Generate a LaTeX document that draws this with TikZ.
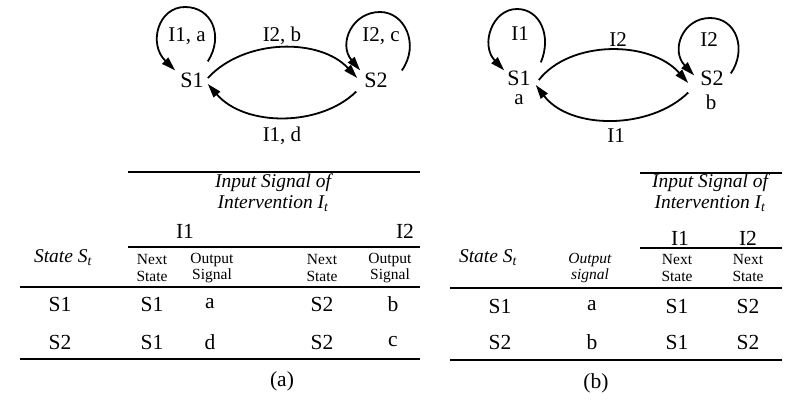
\documentclass[tikz,border=0pt]{standalone}
\usepackage{fontspec}
\setmainfont{Liberation Serif}
\usetikzlibrary{arrows.meta}
\tikzset{
  stnode/.style={font=\fontsize{22}{24}\selectfont, inner sep=4pt},
  lbl/.style={font=\fontsize{21}{24}\selectfont, inner sep=0pt},
  cell/.style={font=\fontsize{21.5}{24}\selectfont, inner sep=0pt},
  small/.style={font=\fontsize{15.5}{16.5}\selectfont, inner sep=0pt, align=center},
  smallit/.style={font=\fontsize{15.5}{16.5}\selectfont\itshape, inner sep=0pt, align=center},
  hdr/.style={font=\fontsize{19.5}{20}\selectfont\itshape, inner sep=0pt, align=center},
  edge/.style={line width=1.8pt, -{Triangle[length=14pt,width=8.5pt]}},
  thickrule/.style={line width=2.2pt},
  thinrule/.style={line width=1.1pt},
}
\begin{document}
\begin{tikzpicture}[x=1pt,y=-1pt]
\useasboundingbox (0,0) rectangle (788,404);

% ---------- diagram (a)
\node[stnode] (S1a) at (192,80) {S1};
\node[stnode] (S2a) at (376,80) {S2};
\node[lbl] (la1) at (187,36) {I1, a};
\node[lbl] (la2) at (282,36) {I2, b};
\node[lbl] (la3) at (381,36) {I2, c};
\node[lbl] (la4) at (282,136) {I1, d};

\draw[edge] ([shift={(0,-7)}]S1a.north east) .. controls (224,36) and (212,7) .. (185,7)
   .. controls (158,7) and (148,44) .. ([shift={(-1,2)}]S1a.north west);
\draw[edge] ([shift={(0,-2)}]S1a.east) .. controls (245,38) and (320,38) .. ([shift={(-3,-2)}]S2a.west);
\draw[edge] ([shift={(-4,0)}]S2a.south west) .. controls (320,127) and (245,127) .. ([shift={(0,4)}]S1a.east);
\draw[edge] ([shift={(10,2)}]S2a.north east) .. controls (420,45) and (405,12) .. (380,12)
   .. controls (352,12) and (338,44) .. ([shift={(0,2)}]S2a.north west);

% ---------- diagram (b)
\node[stnode] (S1b) at (519,78) {S1};
\node[stnode] (S2b) at (712,78) {S2};
\node[lbl] (oa) at (519,100) {a};
\node[lbl] (ob) at (711,102) {b};
\node[lbl] (lb1) at (520,34) {I1};
\node[lbl] (lb2) at (618,40) {I2};
\node[lbl] (lb3) at (709,40) {I2};
\node[lbl] (lb4) at (616,136) {I1};

\draw[edge] ([shift={(6,-4)}]S1b.north east) .. controls (552,36) and (540,9) .. (517,9)
   .. controls (492,9) and (480,45) .. ([shift={(1,4)}]S1b.north west);
\draw[edge] ([shift={(4,2)}]S1b.east) .. controls (570,40) and (650,40) .. ([shift={(-8,5)}]S2b.west);
\draw[edge] ([shift={(-8,3)}]S2b.south west) .. controls (650,130) and (570,130) .. ([shift={(1,7)}]S1b.east);
\draw[edge] ([shift={(3,7)}]S2b.north east) .. controls (747,50) and (737,18) .. (710,18)
   .. controls (683,18) and (670,50) .. ([shift={(-2,9)}]S2b.north west);

% ---------- table (a)
\coordinate (ta1) at (128,172); \coordinate (ta2) at (420,172);
\coordinate (tb1) at (128,247); \coordinate (tb2) at (420,247);
\coordinate (tc1) at (20,287);  \coordinate (tc2) at (420,287);
\coordinate (td1) at (20,359);  \coordinate (td2) at (420,359);
\draw[thickrule] (ta1) -- (ta2);
\draw[thinrule] (tb1) -- (tb2);
\draw[thinrule] (tc1) -- (tc2);
\draw[thickrule] (td1) -- (td2);
\node[hdr] (ah1) at (273,183) {Input Signal of};
\node[hdr] (ah2) at (273,204) {Intervention I\textsubscript{t}};
\node[cell] (ai1) at (185,231) {I1};
\node[cell] (ai2) at (405,231) {I2};
\node[hdr] (ast) at (63,258) {State S\textsubscript{t}};
\node[small] (an1) at (152,268) {Next\\State};
\node[small] (ao1) at (212,268) {Output\\Signal};
\node[small] (an2) at (322,268) {Next\\State};
\node[small] (ao2) at (390,268) {Output\\Signal};
\node[cell] (ar11) at (60,304) {S1};
\node[cell] (ar12) at (152,304) {S1};
\node[cell] (ar13) at (210,304) {a};
\node[cell] (ar14) at (322,304) {S2};
\node[cell] (ar15) at (393,304) {b};
\node[cell] (ar21) at (60,342) {S2};
\node[cell] (ar22) at (152,342) {S1};
\node[cell] (ar23) at (210,342) {d};
\node[cell] (ar24) at (322,342) {S2};
\node[cell] (ar25) at (393,342) {c};
\node[cell] (capa) at (282,381) {(a)};

% ---------- table (b)
\coordinate (ua1) at (640,173); \coordinate (ua2) at (782,173);
\coordinate (ub1) at (640,248); \coordinate (ub2) at (782,248);
\coordinate (uc1) at (450,288); \coordinate (uc2) at (782,288);
\coordinate (ud1) at (450,360); \coordinate (ud2) at (782,360);
\draw[thickrule] (ua1) -- (ua2);
\draw[thinrule] (ub1) -- (ub2);
\draw[thinrule] (uc1) -- (uc2);
\draw[thickrule] (ud1) -- (ud2);
\node[hdr] (bh1) at (710,183) {Input Signal of};
\node[hdr] (bh2) at (710,204) {Intervention I\textsubscript{t}};
\node[cell] (bi1) at (680,238) {I1};
\node[cell] (bi2) at (748,238) {I2};
\node[hdr] (bst) at (488,258) {State S\textsubscript{t}};
\node[smallit] (bo) at (590,268) {Output\\signal};
\node[small] (bn1) at (677,268) {Next\\State};
\node[small] (bn2) at (748,268) {Next\\State};
\node[cell] (br11) at (500,306) {S1};
\node[cell] (br12) at (592,306) {a};
\node[cell] (br13) at (677,306) {S1};
\node[cell] (br14) at (748,306) {S2};
\node[cell] (br21) at (500,342) {S2};
\node[cell] (br22) at (592,342) {b};
\node[cell] (br23) at (677,342) {S1};
\node[cell] (br24) at (748,342) {S2};
\node[cell] (capb) at (596,383) {(b)};
\end{tikzpicture}
\end{document}
